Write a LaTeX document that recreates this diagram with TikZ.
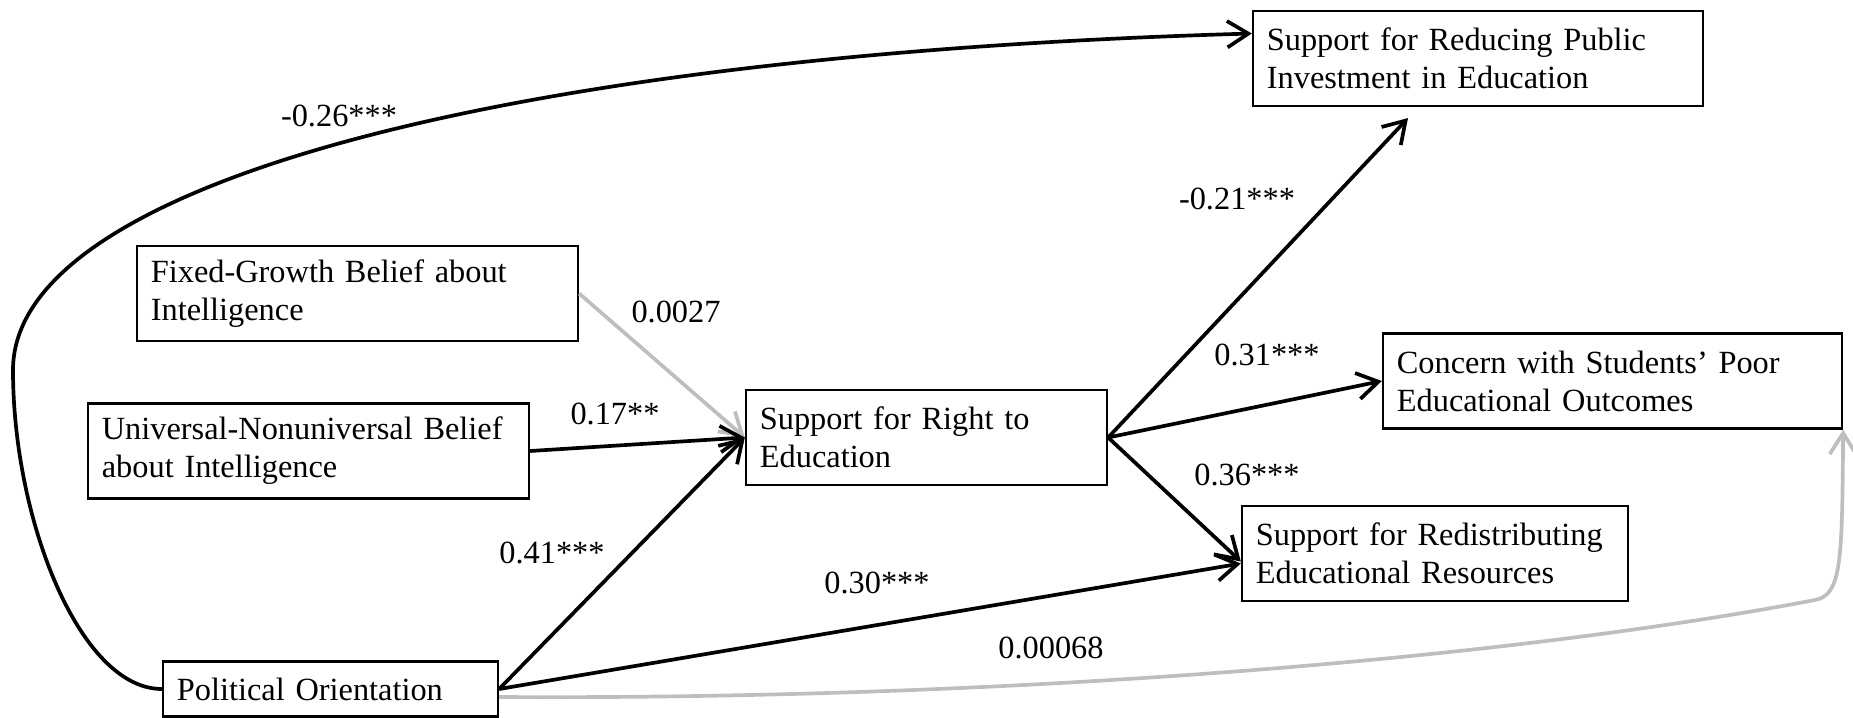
\documentclass[tikz,border=0pt]{standalone}
\usepackage{fontspec}
\setmainfont{Liberation Serif}
\usepackage{tikz}
\usetikzlibrary{arrows.meta,calc}
\definecolor{pathgray}{RGB}{190,190,190}
\hyphenpenalty=10000
\exhyphenpenalty=10000

\begin{document}
\begin{tikzpicture}[x=0.01cm, y=-0.01cm,
        font=\fontsize{9.2}{10.8}\selectfont,
        var/.style={draw, line width=0.6pt, align=left, inner xsep=0.14cm, minimum height=0.95cm},
        path/.style={line width=1.05pt, -{Straight Barb[length=6pt,width=7.5pt,line width=1.05pt]}},
        weak/.style={path, draw=pathgray},
        coef/.style={inner sep=0pt}]
                \useasboundingbox (0,0) rectangle (1853,718);

                \node[var, text width=4.22cm] (reduce) at (1478,58.5) {Support for Reducing Public\\Investment in Education};
                \node[var, text width=4.13cm] (fixed) at (357.5,293.5) {Fixed-Growth Belief about\\Intelligence};
                \node[var, text width=4.13cm] (univ) at (308.5,451) {Universal-Nonuniversal Belief\\about Intelligence};
                \node[var, text width=3.33cm] (right) at (926.5,437.5) {Support for Right to\\Education};
                \node[var, text width=4.31cm] (concern) at (1612.5,381) {Concern with Students' Poor\\Educational Outcomes};
                \node[var, text width=3.58cm] (redist) at (1435,553.5) {Support for Redistributing\\Educational Resources};
                \node[var, text width=3.07cm, minimum height=0.55cm] (polit) at (330.5,689) {Political Orientation};

                \draw[weak] (fixed.east) -- (right.west);
                \draw[path] (univ.east) -- (right.west);
                \draw[path] (polit.east) -- (right.west);
                \draw[path] (polit.east) -- ($(redist.west)+(0,10)$);
                \draw[path] (right.east) -- ($(reduce.south)+(-70,11)$);
                \draw[path] (right.east) -- (concern.west);
                \draw[path] (right.east) -- ($(redist.west)+(0,8)$);

                \draw[path] (polit.west) .. controls (80,689) and (13,520) .. (13,370)
                        .. controls (13,185) and (500,55) .. ($(reduce.west)+(0,-25)$);
                \draw[weak] ($(polit.east)+(0,8)$) .. controls (1000,700) and (1500,660) .. (1815,600)
                        .. controls (1842,595) and (1842,560) .. (concern.south east);

                \node[coef] (c26) at (339,116) {-0.26***};
                \node[coef] (c0027) at (676,312) {0.0027};
                \node[coef] (c17) at (615,414) {0.17**};
                \node[coef] (c41) at (552,553) {0.41***};
                \node[coef] (c30) at (877,583) {0.30***};
                \node[coef] (c00068) at (1051,648) {0.00068};
                \node[coef] (c21) at (1237,199) {-0.21***};
                \node[coef] (c31) at (1267,355) {0.31***};
                \node[coef] (c36) at (1247,475) {0.36***};
\end{tikzpicture}
\end{document}
